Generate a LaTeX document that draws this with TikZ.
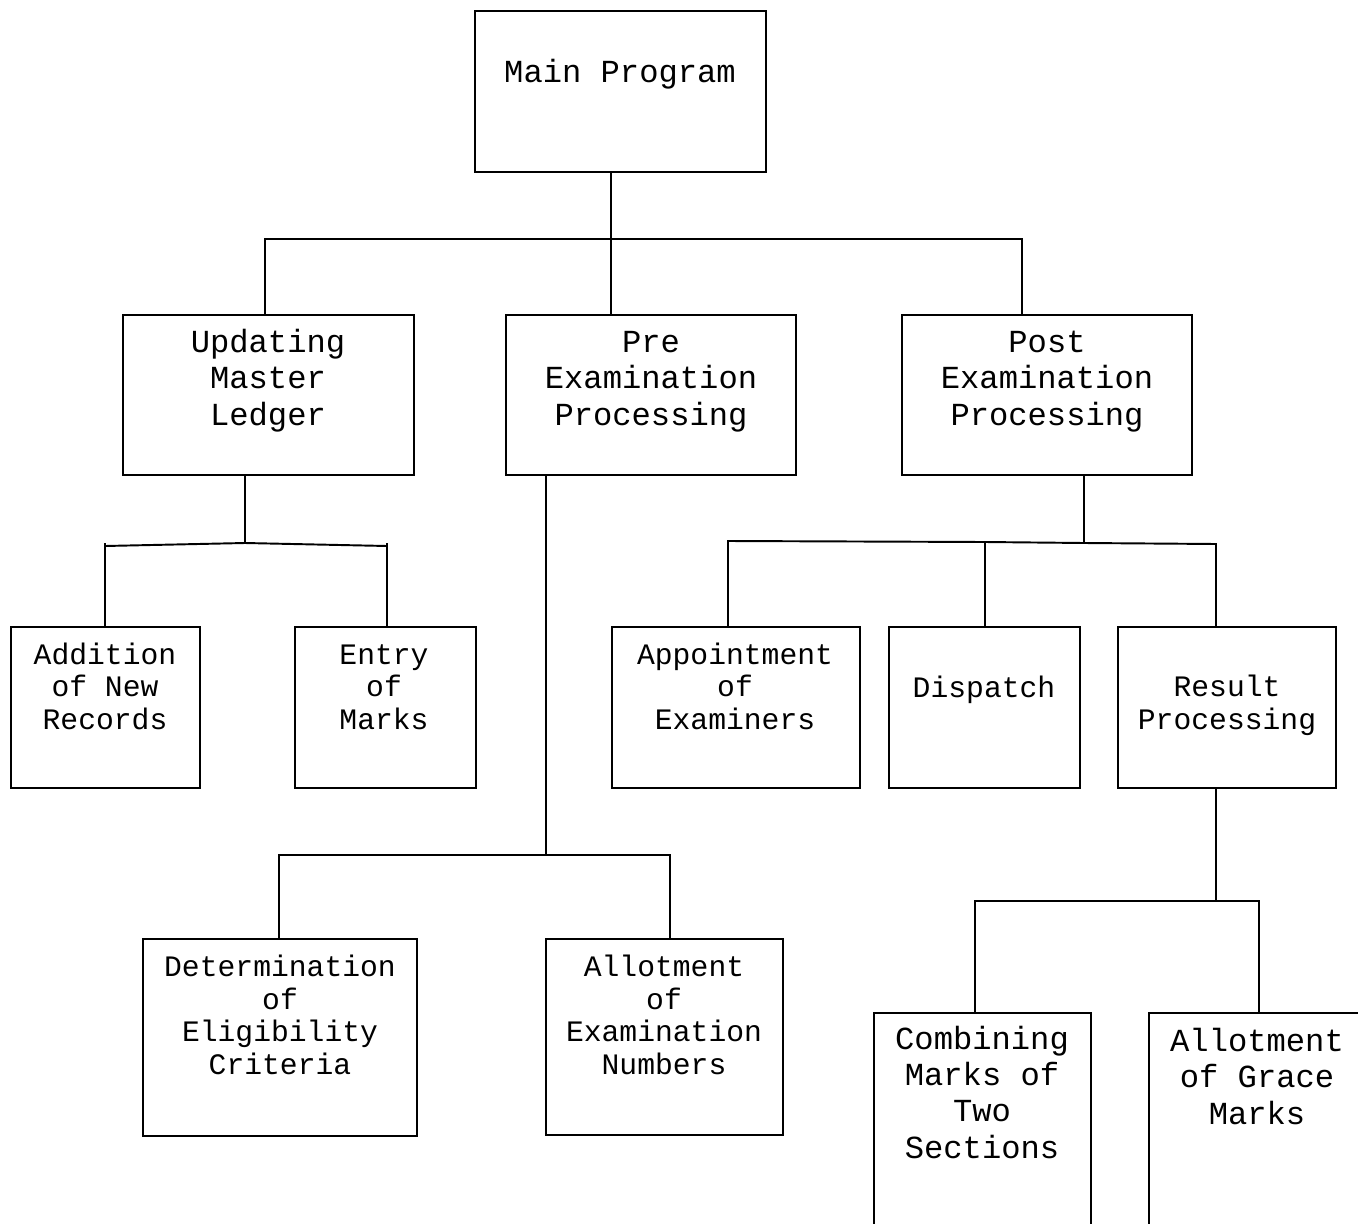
\documentclass[tikz,border=0pt]{standalone}
\usepackage{fontspec}
\usetikzlibrary{fit}
\newfontfamily\chartmono{Liberation Mono}
\tikzset{
  box/.style={draw, line width=1.1pt, inner sep=0pt},
  % labels are placed by the baseline of their last line
  big/.style={anchor=base, inner sep=0pt, align=center,
    font=\chartmono\fontsize{18.3}{20.5}\selectfont},
  small/.style={anchor=base, inner sep=0pt, align=center,
    font=\chartmono\fontsize{16.9}{18.5}\selectfont},
  link/.style={line width=1.1pt}
}
% box helper: name, x1, y1, x2, y2
\newcommand\chartbox[5]{%
  \coordinate (#1-a) at (#2,#3);
  \coordinate (#1-b) at (#4,#5);
  \node[box, fit=(#1-a)(#1-b)] (#1) {};}
\begin{document}
\begin{tikzpicture}[x=0.02cm, y=-0.02cm]
\useasboundingbox (0,0) rectangle (1358,1223);
\clip (0,0) rectangle (1358,1223);

% boxes
\chartbox{main}{475}{11}{766}{172}
\chartbox{upd}{123}{315}{414}{475}
\chartbox{pre}{506}{315}{796}{475}
\chartbox{post}{902}{315}{1192}{475}
\chartbox{add}{11}{627}{200}{788}
\chartbox{entry}{295}{627}{476}{788}
\chartbox{appt}{612}{627}{860}{788}
\chartbox{disp}{889}{627}{1080}{788}
\chartbox{res}{1118}{627}{1336}{788}
\chartbox{det}{143}{939}{417}{1136}
\chartbox{allot}{546}{939}{783}{1135}
\chartbox{comb}{874}{1013}{1091}{1260}
\chartbox{grace}{1149}{1013}{1400}{1260}

% labels
\node[big] (mainT) at (620,83) {Main Program};
\node[big] (updT) at (268,425) {Updating\\Master\\Ledger};
\node[big] (preT) at (651,425) {Pre\\Examination\\Processing};
\node[big] (postT) at (1047,425) {Post\\Examination\\Processing};
\node[small] (addT) at (105,729) {Addition\\of New\\Records};
\node[small] (entryT) at (384,729) {Entry\\of\\Marks};
\node[small] (apptT) at (735,729) {Appointment\\of\\Examiners};
\node[small] (dispT) at (984,697) {Dispatch};
\node[small] (resT) at (1227,729) {Result\\Processing};
\node[small] (detT) at (280,1074) {Determination\\of\\Eligibility\\Criteria};
\node[small] (allotT) at (664,1074) {Allotment\\of\\Examination\\Numbers};
\node[big] (combT) at (982,1158) {Combining\\Marks of\\Two\\Sections};
\node[big] (graceT) at (1257,1124) {Allotment\\of Grace\\Marks};

% junction points
\coordinate (j0) at (611,239);
\coordinate (j0l) at (265,239);
\coordinate (j0r) at (1022,239);
\coordinate (j1) at (245,543);
\coordinate (j1l) at (105,546);
\coordinate (j1r) at (387,546);
\coordinate (j2) at (546,855);
\coordinate (j2l) at (279,855);
\coordinate (j2r) at (670,855);
\coordinate (j3) at (1084,543);
\coordinate (j3l) at (728,541);
\coordinate (j3m) at (985,542);
\coordinate (j3r) at (1216,544);
\coordinate (j4) at (1216,901);
\coordinate (j4l) at (975,901);
\coordinate (j4r) at (1259,901);

% main program to first level
\draw[link] (main.south -| j0) -- (pre.north -| j0);
\draw[link] (upd.north -| j0l) -- (j0l) -- (j0r) -- (post.north -| j0r);

% updating master ledger
\draw[link] (upd.south -| j1) -- (j1);
\draw[link] (add.north -| j1l) -- ([yshift=0.06cm]j1l) -- (j1l) -- (j1) -- (j1r) -- ([yshift=0.06cm]j1r);
\draw[link] (j1r) -- (entry.north -| j1r);

% pre examination processing
\draw[link] (pre.south -| j2) -- (j2);
\draw[link] (det.north -| j2l) -- (j2l) -- (j2r) -- (allot.north -| j2r);

% post examination processing
\draw[link] (post.south -| j3) -- (j3);
\draw[link] (appt.north -| j3l) -- (j3l) -- (j3m) -- (j3) -- (j3r) -- (res.north -| j3r);
\draw[link] (j3m) -- (disp.north -| j3m);

% result processing
\draw[link] (res.south -| j4) -- (j4);
\draw[link] (comb.north -| j4l) -- (j4l) -- (j4r) -- (grace.north -| j4r);
\end{tikzpicture}
\end{document}
